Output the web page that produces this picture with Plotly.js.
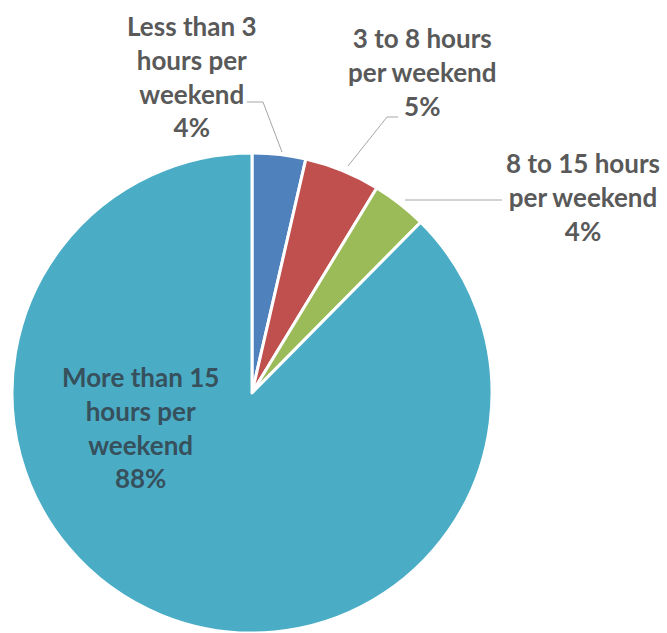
<!DOCTYPE html>
<html>
<head>
<meta charset="utf-8">
<script src="https://cdn.plot.ly/plotly-3.0.1.min.js"></script>
<style>html,body{margin:0;padding:0;background:#fff;}#chart{width:667px;height:633px;}</style>
</head>
<body>
<div id="chart"></div>
<script>
var categories = ['Less than 3 hours per weekend', '3 to 8 hours per weekend', '8 to 15 hours per weekend', 'More than 15 hours per weekend'];
var labelLines = ['Less than 3<br>hours per<br>weekend', '3 to 8 hours<br>per weekend', '8 to 15 hours<br>per weekend', 'More than 15<br>hours per<br>weekend'];
var values = [3.6, 5.1, 3.7, 87.6];
var colors = ['#4F81BD', '#C0504D', '#9BBB59', '#4BACC6'];

var W = 667, H = 633;
function px(x){ return x / W; }
function py(y){ return 1 - y / H; }

var total = values.reduce(function(a,b){return a+b;}, 0);
var pct = values.map(function(v){ return Math.round(v / total * 100) + '%'; });

// label anchor positions (pixels) and colours
var labelPos = [[191, 76], [422, 72], [583, 197], [140, 428]];
var labelColor = ['#595959', '#595959', '#595959', '#36505c'];

var annotations = categories.map(function(c, i){
  return {
    xref: 'paper', yref: 'paper',
    x: px(labelPos[i][0]), y: py(labelPos[i][1]),
    xanchor: 'center', yanchor: 'middle', align: 'center',
    showarrow: false,
    text: labelLines[i] + '<br>' + pct[i],
    font: {family: 'Lato, "Open Sans", sans-serif', size: 26, color: labelColor[i], weight: 'bold'}
  };
});

function pathOf(pts){
  return 'M' + pts.map(function(p){ return px(p[0]) + ',' + py(p[1]); }).join(' L');
}
var leaderLines = [
  [[247, 102], [263, 102], [282, 152]],
  [[348, 166], [387, 117], [398, 117]],
  [[405, 200], [502, 200]]
];
var shapes = leaderLines.map(function(p){
  return {type: 'path', xref: 'paper', yref: 'paper', path: pathOf(p), line: {color: '#a6a6a6', width: 1}};
});

var data = [{
  type: 'pie',
  labels: categories,
  values: values,
  sort: false,
  direction: 'clockwise',
  rotation: 0,
  textinfo: 'none',
  hoverinfo: 'label+percent',
  marker: {colors: colors, line: {color: '#ffffff', width: 3}},
  domain: {x: [px(12), px(492)], y: [py(633), py(153)]},
  showlegend: false
}];

var layout = {
  width: W, height: H,
  margin: {l: 0, r: 0, t: 0, b: 0},
  paper_bgcolor: '#ffffff',
  showlegend: false,
  annotations: annotations,
  shapes: shapes
};

Plotly.newPlot('chart', data, layout, {displayModeBar: false, staticPlot: true});
</script>
</body>
</html>
